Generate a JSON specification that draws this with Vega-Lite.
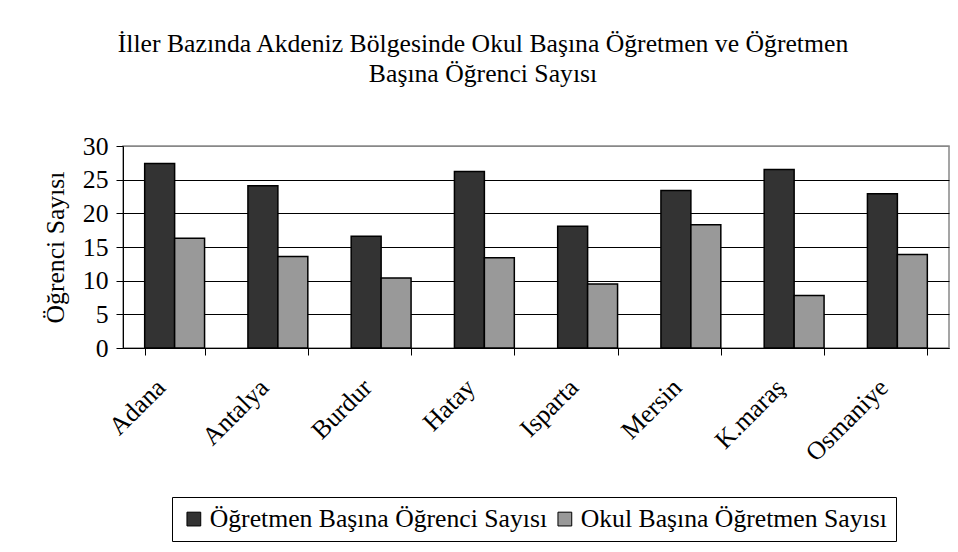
{
  "$schema": "https://vega.github.io/schema/vega-lite/v6.json",
  "width": 826,
  "height": 202,
  "autosize": "none",
  "padding": {"left": 123, "top": 146, "right": 9, "bottom": 204},
  "background": "white",
  "title": {
    "text": ["İller Bazında Akdeniz Bölgesinde Okul Başına Öğretmen ve Öğretmen", "Başına Öğrenci Sayısı"],
    "font": "Liberation Serif",
    "fontSize": 25.7,
    "fontWeight": "normal",
    "color": "black",
    "anchor": "middle",
    "dx": -53,
    "offset": 45,
    "lineHeight": 30
  },
  "data": {
    "values": [
      {"il": "Adana", "seri": "Öğretmen Başına Öğrenci Sayısı", "deger": 27.4},
      {"il": "Adana", "seri": "Okul Başına Öğretmen Sayısı", "deger": 16.3},
      {"il": "Antalya", "seri": "Öğretmen Başına Öğrenci Sayısı", "deger": 24.1},
      {"il": "Antalya", "seri": "Okul Başına Öğretmen Sayısı", "deger": 13.6},
      {"il": "Burdur", "seri": "Öğretmen Başına Öğrenci Sayısı", "deger": 16.6},
      {"il": "Burdur", "seri": "Okul Başına Öğretmen Sayısı", "deger": 10.4},
      {"il": "Hatay", "seri": "Öğretmen Başına Öğrenci Sayısı", "deger": 26.2},
      {"il": "Hatay", "seri": "Okul Başına Öğretmen Sayısı", "deger": 13.4},
      {"il": "Isparta", "seri": "Öğretmen Başına Öğrenci Sayısı", "deger": 18.1},
      {"il": "Isparta", "seri": "Okul Başına Öğretmen Sayısı", "deger": 9.5},
      {"il": "Mersin", "seri": "Öğretmen Başına Öğrenci Sayısı", "deger": 23.4},
      {"il": "Mersin", "seri": "Okul Başına Öğretmen Sayısı", "deger": 18.3},
      {"il": "K.maraş", "seri": "Öğretmen Başına Öğrenci Sayısı", "deger": 26.5},
      {"il": "K.maraş", "seri": "Okul Başına Öğretmen Sayısı", "deger": 7.8},
      {"il": "Osmaniye", "seri": "Öğretmen Başına Öğrenci Sayısı", "deger": 22.9},
      {"il": "Osmaniye", "seri": "Okul Başına Öğretmen Sayısı", "deger": 13.9}
    ]
  },
  "mark": {"type": "bar", "stroke": "black", "strokeWidth": 1.5},
  "encoding": {
    "x": {
      "field": "il",
      "type": "nominal",
      "sort": null,
      "scale": {"paddingInner": 0.42, "paddingOuter": 0.21},
      "axis": {
        "title": null,
        "labelAngle": -45,
        "labelAlign": "right",
        "labelBaseline": "middle",
        "labelPadding": 28,
        "labelOffset": -14,
        "tickBand": "extent",
        "tickSize": 7,
        "tickColor": "black",
        "domainColor": "black",
        "labelFont": "Liberation Serif",
        "labelFontSize": 25.7,
        "labelColor": "black",
        "labelLimit": 0,
        "grid": false
      }
    },
    "xOffset": {"field": "seri", "type": "nominal", "sort": null},
    "y": {
      "field": "deger",
      "type": "quantitative",
      "scale": {"domain": [0, 30], "nice": false},
      "axis": {
        "values": [0, 5, 10, 15, 20, 25, 30],
        "title": "Öğrenci Sayısı",
        "titleFont": "Liberation Serif",
        "titleFontSize": 25.7,
        "titleFontWeight": "normal",
        "titleColor": "black",
        "titlePadding": 14,
        "labelFont": "Liberation Serif",
        "labelFontSize": 25.7,
        "labelColor": "black",
        "labelPadding": 8,
        "tickSize": 7,
        "tickColor": "black",
        "domainColor": "black",
        "grid": true,
        "gridColor": {"condition": {"test": "datum.value === 30", "value": "#888888"}, "value": "black"},
        "gridWidth": 1
      }
    },
    "color": {
      "field": "seri",
      "type": "nominal",
      "sort": null,
      "scale": {
        "domain": ["Öğretmen Başına Öğrenci Sayısı", "Okul Başına Öğretmen Sayısı"],
        "range": ["#333333", "#999999"]
      },
      "legend": {
        "title": null,
        "orient": "none",
        "legendX": 49,
        "legendY": 351,
        "direction": "horizontal",
        "symbolType": "square",
        "symbolSize": 190,
        "symbolStrokeColor": "black",
        "symbolStrokeWidth": 1,
        "labelFont": "Liberation Serif",
        "labelFontSize": 25.7,
        "labelColor": "black",
        "labelLimit": 0,
        "labelOffset": 3,
        "columnPadding": 4,
        "padding": 9,
        "strokeColor": "black",
        "fillColor": "white"
      }
    }
  },
  "config": {
    "view": {"stroke": "#888888", "strokeWidth": 1.5}
  }
}
